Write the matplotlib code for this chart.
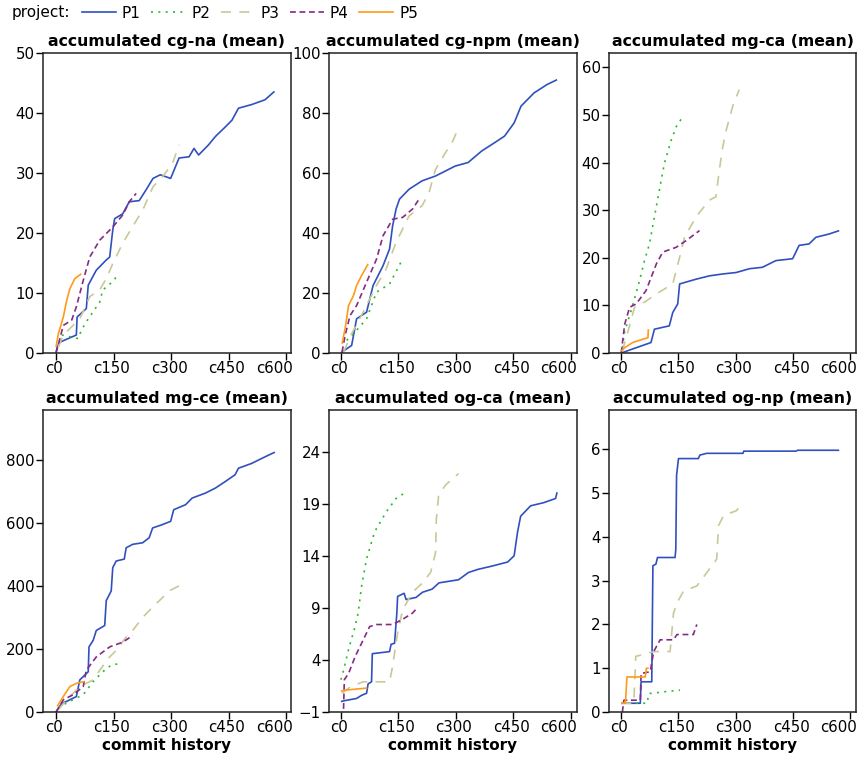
import matplotlib
matplotlib.use("Agg")
import matplotlib.pyplot as plt
from matplotlib.lines import Line2D
from matplotlib.transforms import ScaledTranslation

plt.rcParams['font.family'] = ['DejaVu Sans']

projects = ["P1", "P2", "P3", "P4", "P5"]
colors = {"P1": "#3050bf", "P2": "#2db82d", "P3": "#c8c898", "P4": "#852a85", "P5": "#ff9a1a"}
dashes = {"P1": None, "P2": (1.2, 3.2), "P3": (6, 5), "P4": (3.5, 2.2), "P5": None}

x_ticks = [0, 150, 300, 450, 600]
x_tick_labels = ["c0", "c150", "c300", "c450", "c600"]

# ---------- accumulated cg-na ----------
cgna_p1_x = [0, 3, 10, 53, 55, 79, 84, 105, 131, 140, 148, 153, 174, 191, 217, 235, 253, 272, 299, 321, 347, 360, 372, 398, 416, 442, 459, 476, 510, 545, 570]
cgna_p1_y = [0, 1, 1.8, 3, 6, 7.4, 11.3, 13.8, 15.5, 16, 20.5, 22.4, 23.2, 25.2, 25.4, 27.2, 29.1, 29.7, 29.1, 32.5, 32.7, 34.1, 33, 34.7, 36.1, 37.7, 38.8, 40.8, 41.4, 42.2, 43.6]
cgna_p2_x = [15, 58, 66, 79, 114, 122, 148, 161]
cgna_p2_y = [3, 2.4, 3.8, 5.2, 8.5, 10.5, 11.9, 13]
cgna_p3_x = [6, 19, 62, 88, 114, 131, 148, 174, 200, 226, 253, 278, 304, 321]
cgna_p3_y = [1, 3, 5.7, 9.4, 10.5, 12.4, 14.9, 18.3, 21.1, 23.8, 27.7, 29.4, 31.6, 34.7]
cgna_p4_x = [0, 19, 41, 53, 71, 88, 114, 148, 174, 191, 209]
cgna_p4_y = [0, 4.6, 5.5, 7.7, 12.1, 16, 18.8, 21, 23, 25.2, 26.6]
cgna_p5_x = [0, 6, 19, 28, 36, 49, 66]
cgna_p5_y = [1, 3.2, 6, 8.8, 10.7, 12.4, 13.2]

# ---------- accumulated cg-npm ----------
cgnpm_p1_x = [0, 15, 28, 41, 67, 84, 110, 127, 135, 144, 153, 178, 212, 247, 281, 298, 332, 367, 401, 427, 452, 470, 504, 538, 564]
cgnpm_p1_y = [0, 1.4, 2.5, 11.4, 13.6, 22.5, 29.1, 34.7, 42.4, 48, 51.3, 54.6, 57.4, 59, 61.2, 62.3, 63.5, 67.3, 70.1, 72.3, 76.7, 82.3, 86.7, 89.5, 91.1]
cgnpm_p2_x = [15, 33, 67, 93, 127, 161]
cgnpm_p2_y = [4.2, 6.4, 11.4, 20.3, 23, 31.3]
cgnpm_p3_x = [7, 28, 58, 93, 118, 144, 178, 212, 230, 247, 273, 290, 307]
cgnpm_p3_y = [0.3, 6.4, 13.6, 22.5, 28, 36.9, 45.7, 49.1, 53.5, 61.2, 66.8, 70.1, 75.1]
cgnpm_p4_x = [3, 11, 24, 41, 67, 93, 110, 135, 161, 187, 204]
cgnpm_p4_y = [0.3, 5.9, 12.5, 15.8, 23.6, 31.3, 39.1, 44.6, 45.2, 48, 51.3]
cgnpm_p5_x = [3, 11, 20, 33, 41, 54, 71]
cgnpm_p5_y = [3.1, 8.1, 15.8, 19.2, 22.5, 25.8, 29.7]

# ---------- accumulated mg-ca ----------
mgca_p1_x = [0, 39, 78, 87, 126, 135, 148, 153, 196, 231, 266, 301, 336, 370, 405, 449, 466, 492, 510, 545, 571]
mgca_p1_y = [0, 1.1, 2.2, 5, 5.7, 8.5, 10.3, 14.5, 15.5, 16.2, 16.6, 16.9, 17.7, 18, 19.4, 19.8, 22.6, 22.9, 24.3, 25, 25.7]
mgca_p2_x = [3, 9, 26, 48, 61, 74, 87, 100, 113, 131, 144, 161]
mgca_p2_y = [1.1, 4.6, 8.9, 15.2, 19.4, 22.9, 28.6, 34.2, 39.8, 44.7, 47.5, 49.6]
mgca_p3_x = [3, 13, 35, 65, 92, 135, 153, 166, 196, 231, 248, 257, 266, 275, 292, 309]
mgca_p3_y = [0.4, 3.2, 9.6, 10.9, 12.4, 14.5, 20.1, 24.3, 28.6, 32.1, 32.8, 38.4, 43.3, 46.8, 51.8, 55.3]
mgca_p4_x = [0, 9, 22, 39, 65, 92, 109, 144, 170, 205]
mgca_p4_y = [0, 6, 9.6, 10.3, 13.1, 18.7, 21.2, 22.2, 23.6, 25.7]
mgca_p5_x = [0, 9, 30, 57, 70, 71]
mgca_p5_y = [0.4, 1.1, 2.2, 2.9, 3.2, 5]

# ---------- accumulated mg-ce ----------
mgce_p1_x = [0, 15, 28, 53, 62, 84, 86, 97, 105, 127, 131, 144, 148, 157, 178, 183, 200, 226, 243, 252, 278, 299, 307, 338, 355, 390, 416, 442, 467, 476, 510, 545, 571]
mgce_p1_y = [0, 28, 34, 49, 102, 128, 207, 228, 259, 275, 354, 385, 459, 480, 486, 522, 533, 538, 554, 585, 596, 606, 643, 659, 680, 696, 712, 733, 754, 775, 790, 811, 826]
mgce_p2_x = [6, 19, 36, 71, 97, 122, 144, 166]
mgce_p2_y = [13, 23, 34, 55, 97, 128, 149, 154]
mgce_p3_x = [6, 28, 62, 97, 114, 140, 157, 183, 200, 226, 252, 278, 295, 321]
mgce_p3_y = [7, 39, 81, 102, 133, 175, 196, 238, 259, 301, 333, 364, 385, 401]
mgce_p4_x = [0, 19, 45, 71, 79, 105, 140, 174, 200]
mgce_p4_y = [0, 39, 55, 81, 133, 175, 207, 222, 243]
mgce_p5_x = [3, 19, 36, 53, 75]
mgce_p5_y = [18, 49, 81, 91, 97]

# ---------- accumulated og-ca ----------
ogca_p1_x = [0, 11, 41, 54, 67, 71, 80, 82, 127, 131, 140, 146, 148, 165, 170, 196, 213, 238, 256, 307, 333, 358, 393, 435, 452, 461, 469, 495, 529, 560, 564]
ogca_p1_y = [0, 0.1, 0.3, 0.6, 0.8, 1.7, 1.9, 4.6, 4.8, 5.5, 5.6, 8.5, 10.1, 10.4, 9.8, 10, 10.5, 10.8, 11.4, 11.7, 12.4, 12.7, 13, 13.4, 14, 16.3, 17.8, 18.8, 19.1, 19.5, 20.1]
ogca_p2_x = [0, 7, 20, 37, 45, 54, 67, 88, 118, 144, 165]
ogca_p2_y = [2.1, 3, 5, 7.2, 8.5, 11.1, 13.7, 16.3, 18.2, 19.5, 20]
ogca_p3_x = [3, 24, 58, 127, 135, 148, 161, 187, 213, 234, 247, 249, 255, 273, 307]
ogca_p3_y = [0.8, 1.4, 1.9, 1.9, 3.4, 6.6, 8.8, 10.5, 11.4, 12.4, 14.3, 17.5, 19.8, 20.8, 21.9]
ogca_p4_x = [7, 9, 20, 37, 54, 75, 93, 135, 161, 187, 199]
ogca_p4_y = [-0.7, 2.1, 2.7, 4.3, 5.6, 7.2, 7.4, 7.4, 7.9, 8.5, 9]
ogca_p5_x = [0, 11, 69]
ogca_p5_y = [1, 1.1, 1.3]

# ---------- accumulated og-np ----------
ognp_p1_x = [0, 50, 52, 80, 83, 91, 95, 141, 143, 145, 150, 202, 206, 224, 319, 321, 458, 462, 571]
ognp_p1_y = [0.2, 0.2, 0.69, 0.69, 3.34, 3.38, 3.53, 3.53, 3.72, 5.41, 5.79, 5.79, 5.87, 5.91, 5.91, 5.96, 5.96, 5.98, 5.98]
ognp_p2_x = [0, 68, 72, 111, 154]
ognp_p2_y = [0.2, 0.2, 0.42, 0.46, 0.5]
ognp_p3_x = [0, 33, 38, 85, 128, 137, 146, 163, 198, 211, 250, 255, 268, 302, 312]
ognp_p3_y = [0.2, 0.2, 1.27, 1.38, 1.38, 2.26, 2.49, 2.76, 2.88, 3.03, 3.49, 4.26, 4.49, 4.6, 4.72]
ognp_p4_x = [3, 7, 50, 52, 76, 85, 102, 137, 146, 189, 198]
ognp_p4_y = [0, 0.27, 0.27, 0.88, 0.92, 1.38, 1.65, 1.65, 1.77, 1.77, 2.0]
ognp_p5_x = [0, 11, 15, 63, 66, 72]
ognp_p5_y = [0.2, 0.2, 0.8, 0.8, 1.0, 1.0]

titles = ["accumulated cg-na (mean)", "accumulated cg-npm (mean)", "accumulated mg-ca (mean)",
          "accumulated mg-ce (mean)", "accumulated og-ca (mean)", "accumulated og-np (mean)"]

panels = [
    {"P1": (cgna_p1_x, cgna_p1_y), "P2": (cgna_p2_x, cgna_p2_y), "P3": (cgna_p3_x, cgna_p3_y),
     "P4": (cgna_p4_x, cgna_p4_y), "P5": (cgna_p5_x, cgna_p5_y)},
    {"P1": (cgnpm_p1_x, cgnpm_p1_y), "P2": (cgnpm_p2_x, cgnpm_p2_y), "P3": (cgnpm_p3_x, cgnpm_p3_y),
     "P4": (cgnpm_p4_x, cgnpm_p4_y), "P5": (cgnpm_p5_x, cgnpm_p5_y)},
    {"P1": (mgca_p1_x, mgca_p1_y), "P2": (mgca_p2_x, mgca_p2_y), "P3": (mgca_p3_x, mgca_p3_y),
     "P4": (mgca_p4_x, mgca_p4_y), "P5": (mgca_p5_x, mgca_p5_y)},
    {"P1": (mgce_p1_x, mgce_p1_y), "P2": (mgce_p2_x, mgce_p2_y), "P3": (mgce_p3_x, mgce_p3_y),
     "P4": (mgce_p4_x, mgce_p4_y), "P5": (mgce_p5_x, mgce_p5_y)},
    {"P1": (ogca_p1_x, ogca_p1_y), "P2": (ogca_p2_x, ogca_p2_y), "P3": (ogca_p3_x, ogca_p3_y),
     "P4": (ogca_p4_x, ogca_p4_y), "P5": (ogca_p5_x, ogca_p5_y)},
    {"P1": (ognp_p1_x, ognp_p1_y), "P2": (ognp_p2_x, ognp_p2_y), "P3": (ognp_p3_x, ognp_p3_y),
     "P4": (ognp_p4_x, ognp_p4_y), "P5": (ognp_p5_x, ognp_p5_y)},
]

y_ticks = [[0, 10, 20, 30, 40, 50], [0, 20, 40, 60, 80, 100], [0, 10, 20, 30, 40, 50, 60],
           [0, 200, 400, 600, 800], [-1, 4, 9, 14, 19, 24], [0, 1, 2, 3, 4, 5, 6]]
y_lims = [(0, 50), (0, 100), (0, 63), (0, 960), (-1, 28), (0, 6.9)]

W, H = 858, 760
fig = plt.figure(figsize=(W / 100, H / 100), dpi=100)

col_px = [(43, 291, -34), (329, 577, -31), (609, 856, -32)]
row_px = [(53, 353), (410, 712)]

for i in range(6):
    r, c = divmod(i, 3)
    l, rr, xl = col_px[c]
    t, b = row_px[r]
    ax = fig.add_axes([l / W, (H - b) / H, (rr - l) / W, (b - t) / H])
    for p in projects:
        xs, ys = panels[i][p]
        ln, = ax.plot(xs, ys, color=colors[p], lw=1.2, solid_capstyle='butt')
        if dashes[p] is not None:
            ln.set_dashes(dashes[p])
    ax.set_xlim(xl, xl + 647)
    ax.set_ylim(*y_lims[i])
    ax.set_xticks(x_ticks)
    ax.set_xticklabels(x_tick_labels)
    ax.set_yticks(y_ticks[i])
    ax.tick_params(direction='out', length=5, width=1, labelsize=10.8, pad=1, colors='black')
    # shift x tick labels slightly left, last one more so it stays inside the figure
    for k, lab in enumerate(ax.get_xticklabels()):
        dx = -12 if k == len(x_ticks) - 1 else -2
        lab.set_transform(lab.get_transform() + ScaledTranslation(dx / 100, 0, fig.dpi_scale_trans))
    for s in ax.spines.values():
        s.set_linewidth(1.1)
        s.set_color('#222222')
    ax.set_title(titles[i], fontsize=11.3, fontweight='bold', pad=5)
    if r == 1:
        ax.set_xlabel("commit history", fontsize=11, fontweight='bold', labelpad=2)

fig.text(12 / W, 1 - 13 / H, "project:", fontsize=11, va='center', ha='left')
handles = []
for p in projects:
    h = Line2D([], [], color=colors[p], lw=1.2)
    if dashes[p] is not None:
        h.set_dashes(dashes[p])
    handles.append(h)
fig.legend(handles, projects, loc='center left', bbox_to_anchor=(82 / W, 1 - 13 / H), ncol=5,
           frameon=False, fontsize=11, handlelength=2.2, handletextpad=0.4, columnspacing=0.7,
           borderpad=0, borderaxespad=0)

fig.savefig("out.png", dpi=100)
